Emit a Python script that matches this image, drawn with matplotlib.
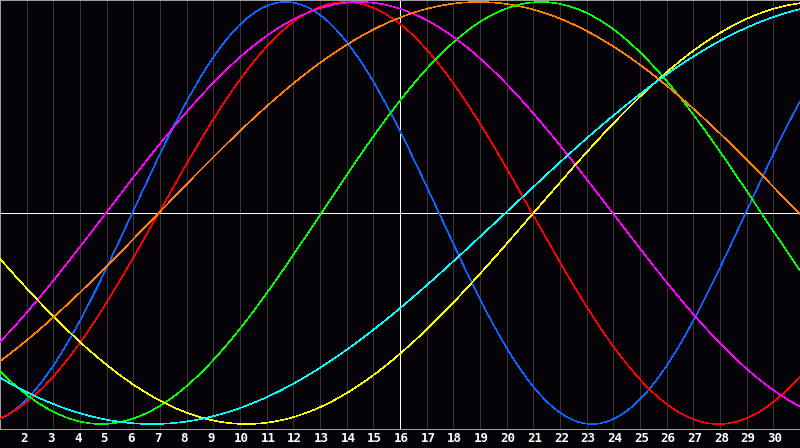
import numpy as np
import matplotlib
matplotlib.use("Agg")
import matplotlib.pyplot as plt
import matplotlib.transforms as mtransforms

#
# DATA (cycle lengths and the day each curve crosses zero going up)
#

cycleNames = ["Physical", "Emotional", "Intellectual", "Intuitive", "Aesthetic", "Awareness", "Spiritual"]
cyclePeriods = [23, 28, 33, 38, 43, 48, 53]
cycleZeroUp = [5.96, 6.95, 13.05, 4.975, 21.0, 6.95, 19.95]
cycleColors = ["#0a64ff", "#ff0000", "#00ff00", "#ff00ff", "#ffff00", "#ff8000", "#00ffff"]

firstDay = 1
lastDay = 31
todayDay = 16
dayLabels = [str(d) for d in range(2, 31)]

#
# PLOTTING
#

fig = plt.figure(figsize=(8.0, 4.48), dpi=100)
fig.patch.set_facecolor("#050308")
ax = fig.add_axes([0, 19.5 / 448, 1, 428.5 / 448])
ax.set_facecolor("#050308")

# one pixel wide lines
px = 72.0 / fig.dpi

# grid lines at every day
for d in range(2, 31):
    ax.axvline(d, color="#353535", lw=px * 0.8, zorder=1, antialiased=False)

# zero line and today marker
ax.axhline(0, color="white", lw=px * 0.9, zorder=2, antialiased=False)
ax.axvline(todayDay, color="white", lw=px * 0.8, zorder=2, antialiased=False)

# the sine curves
days = np.linspace(firstDay, lastDay, 1201)
for k in range(len(cycleNames)):
    values = np.sin(2 * np.pi * (days - cycleZeroUp[k]) / cyclePeriods[k])
    ax.plot(days, values, color=cycleColors[k], lw=px * 0.55, label=cycleNames[k],
            zorder=3, antialiased=False)

ax.set_xlim(firstDay, lastDay)
ax.set_ylim(-215.5 / 211, 213.0 / 211)
ax.set_yticks([])

# day numbers below the plot
ax.set_xticks(range(2, 31))
ax.set_xticklabels(dayLabels, color="white", fontsize=9, fontweight="bold",
                   family="DejaVu Sans Mono")
ax.tick_params(axis="x", length=0, pad=2.5)
shift = mtransforms.ScaledTranslation(-6.0 / fig.dpi, 0, fig.dpi_scale_trans)
for lab in ax.get_xticklabels():
    lab.set_horizontalalignment("left")
    lab.set_transform(lab.get_transform() + shift)

for side in ["left", "right", "top", "bottom"]:
    ax.spines[side].set_color("#a0a0a0")
    ax.spines[side].set_linewidth(px)

fig.savefig("out.png", dpi=100, facecolor=fig.get_facecolor())
